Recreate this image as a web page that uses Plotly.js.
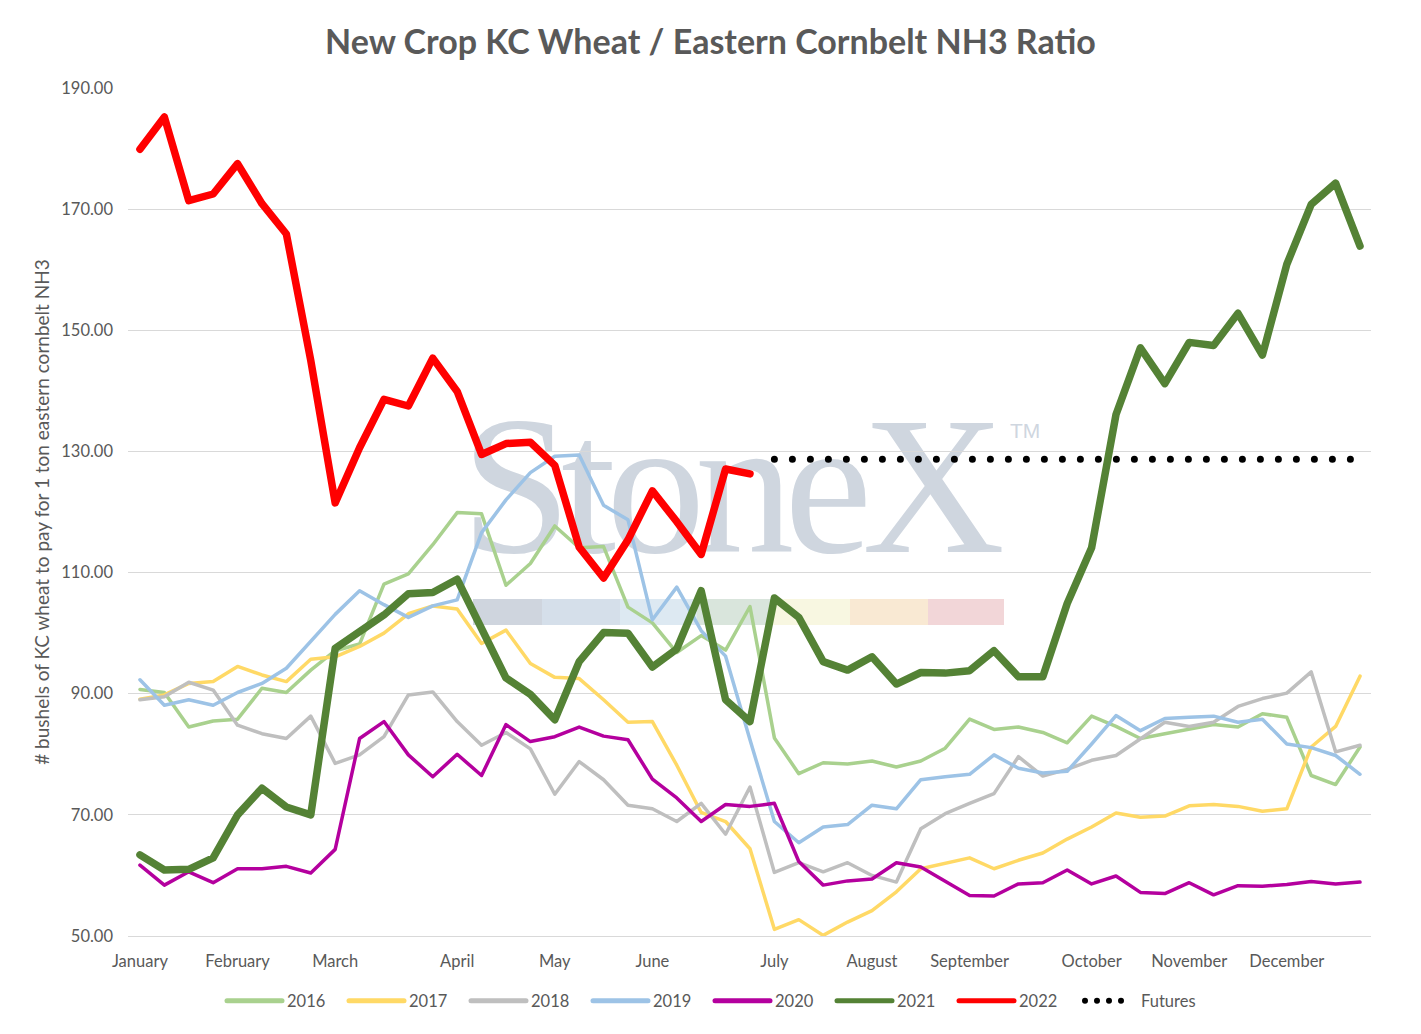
<!DOCTYPE html>
<html><head><meta charset="utf-8">
<script src="https://cdn.plot.ly/plotly-3.0.1.min.js"></script>
<style>
html,body{margin:0;padding:0;background:#fff;}
#chart{width:1421px;height:1034px;outline:1px solid #d9d9d9;outline-offset:-1px;}
.js-line{stroke-linecap:round;stroke-linejoin:round;}
.legendlines path{stroke-linecap:round;}
</style></head><body><div id="chart"></div>
<script>
const weeks = [0,1,2,3,4,5,6,7,8,9,10,11,12,13,14,15,16,17,18,19,20,21,22,23,24,25,26,27,28,29,30,31,32,33,34,35,36,37,38,39,40,41,42,43,44,45,46,47,48,49,50];
const monthTickWeeks = [0,4,8,13,17,21,26,30,34,39,43,47];
const monthLabels = ['January','February','March','April','May','June','July','August','September','October','November','December'];
const yTickValues = [50,70,90,110,130,150,170,190];

const s2016 = [90.7,90.2,84.5,85.5,85.8,90.9,90.2,93.9,97.1,98.2,108.1,109.8,114.6,119.9,119.7,107.9,111.5,117.7,114.1,114.3,104.3,101.7,96.8,99.6,97.2,104.4,82.7,76.8,78.6,78.4,78.9,77.9,78.9,81.0,85.8,84.1,84.5,83.6,81.9,86.3,84.6,82.6,83.4,84.2,84.9,84.5,86.7,86.1,76.5,75.0,81.2];
const s2017 = [89.1,89.8,91.7,92.0,94.5,93.1,92.0,95.7,96.1,97.8,100.0,103.2,104.5,104.0,98.3,100.5,95.0,92.7,92.5,89.0,85.3,85.4,78.2,70.4,68.9,64.4,51.1,52.7,50.1,52.3,54.2,57.3,61.1,62.0,62.9,61.1,62.5,63.7,66.0,68.0,70.3,69.6,69.8,71.5,71.7,71.4,70.6,71.0,81.2,84.6,92.9];
const s2018 = [89.0,89.5,91.9,90.6,84.8,83.4,82.6,86.3,78.5,79.9,82.9,89.8,90.3,85.4,81.5,83.6,80.9,73.4,78.8,75.8,71.6,71.0,68.9,71.9,66.8,74.6,60.5,62.1,60.6,62.1,60.0,58.9,67.7,70.2,71.9,73.5,79.6,76.4,77.5,79.0,79.8,82.6,85.3,84.6,85.3,87.9,89.2,90.1,93.6,80.4,81.5];
const s2019 = [92.3,88.1,89.0,88.1,90.2,91.7,94.2,98.6,103.1,107.0,104.7,102.6,104.5,105.5,116.6,122.0,126.5,129.2,129.4,121.1,118.7,102.2,107.6,100.4,96.2,82.4,68.9,65.4,68.0,68.4,71.6,71.0,75.8,76.3,76.7,79.9,77.7,76.9,77.2,81.7,86.4,83.9,85.9,86.1,86.3,85.3,85.8,81.7,81.1,79.8,76.7];
const s2020 = [61.7,58.4,60.6,58.8,61.1,61.1,61.5,60.4,64.3,82.6,85.4,79.9,76.3,80.0,76.5,84.9,82.1,82.9,84.5,83.0,82.4,75.9,72.8,68.9,71.7,71.4,71.9,62.3,58.4,59.1,59.4,62.1,61.4,59.0,56.7,56.6,58.6,58.8,60.9,58.6,59.9,57.2,57.0,58.8,56.8,58.3,58.2,58.5,59.0,58.6,58.9];
const s2021 = [63.4,60.9,61.0,62.9,70.0,74.4,71.3,70.0,97.5,100.2,103.0,106.5,106.7,108.9,100.8,92.6,89.9,85.7,95.3,100.1,100.0,94.4,97.4,107.0,89.0,85.4,105.8,102.6,95.3,93.9,96.1,91.6,93.5,93.4,93.8,97.1,92.8,92.8,104.9,114.1,136.1,147.1,141.2,148.0,147.5,152.8,145.9,160.9,170.8,174.3,163.9];
const s2022 = [179.9,185.2,171.4,172.5,177.5,170.9,165.9,145.0,121.5,130.6,138.6,137.5,145.4,139.9,129.5,131.3,131.5,127.7,114.2,109.1,115.4,123.5,118.4,113.0,127.1,126.3];
const futures = [null,null,null,null,null,null,null,null,null,null,null,null,null,null,null,null,null,null,null,null,null,null,null,null,null,null,128.7,128.7,128.7,128.7,128.7,128.7,128.7,128.7,128.7,128.7,128.7,128.7,128.7,128.7,128.7,128.7,128.7,128.7,128.7,128.7,128.7,128.7,128.7,128.7,128.7];

const seriesDefs = [
  {name:'2016', y:s2016, color:'#a9d18e', width:3.5},
  {name:'2017', y:s2017, color:'#ffd966', width:3.5},
  {name:'2018', y:s2018, color:'#bfbfbf', width:3.5},
  {name:'2019', y:s2019, color:'#9dc3e6', width:3.5},
  {name:'2020', y:s2020, color:'#b4009e', width:3.5},
  {name:'2021', y:s2021, color:'#548235', width:7.5},
  {name:'2022', y:s2022, color:'#ff0000', width:7.5},
  {name:'Futures', y:futures, color:'#000000', width:7, dash:'0px,18px'}
];

const traces = seriesDefs.map(s => ({
  type:'scatter', mode:'lines', name:s.name, x:weeks, y:s.y,
  line:{color:s.color, width:s.width, dash:s.dash || 'solid'},
  connectgaps:false, hoverinfo:'x+y+name'
}));

const L = 128, T = 88, PW = 1243, PH = 848;
const px = v => (v - L) / PW;
const py = v => (T + PH - v) / PH;

const barColors = ['#cfd5de','#d5dfea','#dde9f2','#d9e5dc','#f8f7e1','#f9e9d3','#f2d6d8'];
const barEdges = [473,542,620,697,773,850,928,1004];
const shapes = barColors.map((c,i) => ({
  type:'rect', xref:'paper', yref:'paper', layer:'below',
  x0:px(barEdges[i]), x1:px(barEdges[i+1]), y0:py(625), y1:py(599),
  fillcolor:c, line:{width:0}
}));
shapes.push({
  type:'rect', xref:'paper', yref:'paper', layer:'below',
  x0:px(461), x1:px(995), y0:py(538), y1:py(388),
  fillcolor:'rgba(0,0,0,0)', line:{width:0},
  label:{text:'StoneX', textposition:'middle center',
    font:{family:'Liberation Serif', size:198, color:'#cfd6df'}}
});

const font = 'Lato, "Open Sans", sans-serif';
const layout = {
  width:1421, height:1034,
  margin:{l:L, r:1421-L-PW, t:T, b:1034-T-PH, autoexpand:false},
  paper_bgcolor:'#ffffff', plot_bgcolor:'#ffffff',
  title:{text:'New Crop KC Wheat / Eastern Cornbelt NH3 Ratio',
    font:{family:font, size:34, color:'#595959', weight:700},
    x:0.5, xref:'container', xanchor:'center', y:1-42/1034, yref:'container', yanchor:'middle'},
  xaxis:{range:[-0.49,50.45], tickmode:'array', tickvals:monthTickWeeks, ticktext:monthLabels,
    showgrid:false, zeroline:false, showline:true, linecolor:'#d9d9d9', linewidth:1.3,
    ticks:'', ticklabelstandoff:10, tickfont:{family:font, size:16.5, color:'#595959'}, fixedrange:true, automargin:false},
  yaxis:{range:[50,190], tickmode:'array', tickvals:yTickValues, tickformat:'.2f',
    showgrid:true, gridcolor:'#d9d9d9', gridwidth:1.3, zeroline:false, showline:false,
    ticks:'', ticklabelstandoff:14, tickfont:{family:font, size:16.5, color:'#595959'},
    title:{text:'# bushels of KC wheat to pay for 1 ton eastern cornbelt NH3', standoff:6,
      font:{family:font, size:19, color:'#595959'}}, fixedrange:true, automargin:false},
  showlegend:true,
  legend:{orientation:'h', x:px(227), xanchor:'left', y:py(1001), yanchor:'middle',
    font:{family:font, size:16.5, color:'#595959'},
    bgcolor:'rgba(0,0,0,0)', traceorder:'normal'},
  annotations:[{xref:'paper', yref:'paper', x:px(1025), y:py(430), text:'TM', showarrow:false,
    font:{family:'"Liberation Sans", sans-serif', size:21, color:'#cfd6df'}, xanchor:'center', yanchor:'middle'}],
  shapes:shapes
};

const TR = /translate\(\s*([-\d.eE]+)[\s,]+([-\d.eE]+)\s*\)/;
function fixUp(gd){
  const items = gd.querySelectorAll('.legend .traces');
  if (items.length) {
    const m0 = TR.exec(items[0].getAttribute('transform') || '');
    const base = m0 ? +m0[1] : 0;
    items.forEach((g, i) => {
      const m = TR.exec(g.getAttribute('transform') || '');
      const ty = m ? +m[2] : 0;
      g.setAttribute('transform', 'translate(' + (base + 20 + i*122) + ',' + ty + ')');
      g.querySelectorAll('.legendlines path').forEach(p => {
        if (i === items.length - 1) {
          p.setAttribute('d','M-16,0h36.5');
          p.style.strokeDasharray = '0px,12px';
          p.style.strokeWidth = '6px';
        } else {
          p.setAttribute('d','M-20,0h55');
          p.style.strokeWidth = '5px';
        }
        p.style.strokeLinecap = 'round';
      });
    });
    const clip = gd.querySelectorAll('.legend clipPath rect, defs [id*="legend"] rect');
    clip.forEach(r => { r.setAttribute('x', -40); r.setAttribute('width', 1300); });
  }
  gd.querySelectorAll('text').forEach(t => {
    if (t.textContent === 'StoneX') t.style.letterSpacing = '-10px';
  });
}

Plotly.newPlot('chart', traces, layout, {displayModeBar:false, responsive:false}).then(gd => {
  fixUp(gd);
  gd.on('plotly_afterplot', () => fixUp(gd));
});
</script></body></html>
